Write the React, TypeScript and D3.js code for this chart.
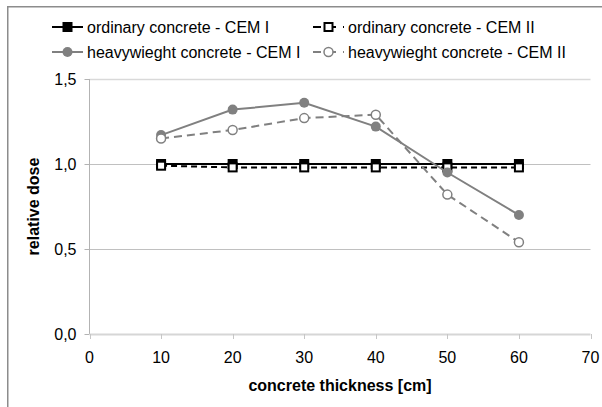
import React from 'react';
import { scaleLinear, line } from 'd3';

const thickness = [10, 20, 30, 40, 50, 60];
const ordinaryCem1 = [1.0, 1.0, 1.0, 1.0, 1.0, 1.0];
const ordinaryCem2 = [0.99, 0.98, 0.98, 0.98, 0.98, 0.98];
const heavyCem1 = [1.17, 1.32, 1.36, 1.22, 0.95, 0.7];
const heavyCem2 = [1.15, 1.2, 1.27, 1.29, 0.82, 0.54];
const xTicks = [0, 10, 20, 30, 40, 50, 60, 70];
const yTicks = [0, 0.5, 1.0, 1.5];

const series = [
    { name: 'ordinary concrete - CEM I', values: ordinaryCem1, color: '#000', dash: null, marker: 'square', filled: true },
    { name: 'ordinary concrete - CEM II', values: ordinaryCem2, color: '#000', dash: '6,4', marker: 'square', filled: false },
    { name: 'heavywieght concrete - CEM I', values: heavyCem1, color: '#808080', dash: null, marker: 'circle', filled: true },
    { name: 'heavywieght concrete - CEM II', values: heavyCem2, color: '#808080', dash: '8,5', marker: 'circle', filled: false },
];

const font = "'Liberation Sans', Arial, sans-serif";

const Marker = ({ s, cx, cy }) => {
    if (s.marker === 'square') {
        return (
            <rect x={cx - 4} y={cy - 4} width={8} height={8}
                fill={s.filled ? '#000' : '#fff'} stroke="#000" strokeWidth={2} />
        );
    }
    return s.filled
        ? <circle cx={cx} cy={cy} r={5} fill={s.color} />
        : <circle cx={cx} cy={cy} r={4.5} fill="#fff" stroke={s.color} strokeWidth={1.5} />;
};

const App = () => {
    const width = 602, height = 407;
    const x = scaleLinear().domain([0, 70]).range([89.5, 590.5]);
    const y = scaleLinear().domain([0, 1.5]).range([334, 79]);

    const drawLine = line()
        .x(d => x(d[0]))
        .y(d => y(d[1]));

    const legendPos = [
        { sx: 52, tx: 87, y: 27 },
        { sx: 313, tx: 348, y: 27 },
        { sx: 52, tx: 87, y: 52 },
        { sx: 313, tx: 348, y: 52 },
    ];

    const py = t => Math.round(y(t)) + 0.5;

    return (
        <svg width={width} height={height} style={{ position: 'absolute', left: 0, top: 0 }}
            fontFamily={font}>
            <rect x={0} y={0} width={width} height={height} fill="#fff" />
            <rect x={7.75} y={6.75} width={620} height={420} fill="none" stroke="#8c8c8c" strokeWidth={1.5} />

            {/* gridlines */}
            {yTicks.filter(t => t > 0).map(t => (
                <line key={t} x1={x(0)} x2={x(70)} y1={py(t)} y2={py(t)}
                    stroke={t === 1.5 ? '#d9d9d9' : '#c0c0c0'} strokeWidth={t === 1.5 ? 1.5 : 1} />
            ))}

            {/* y axis */}
            <line x1={x(0)} x2={x(0)} y1={y(1.5)} y2={y(0)} stroke="#b3b3b3" />
            {yTicks.map(t => (
                <g key={t}>
                    <line x1={x(0) - 5} x2={x(0)} y1={py(t)} y2={py(t)} stroke="#b3b3b3" />
                    <text x={x(0) - 13} y={y(t)} dy="0.35em" textAnchor="end" fontSize={16} fill="#000">
                        {t.toFixed(1).replace('.', ',')}
                    </text>
                </g>
            ))}

            {/* x axis */}
            <line x1={x(0)} x2={x(70)} y1={py(0)} y2={py(0)} stroke="#d6d6d6" strokeWidth={2} />
            {xTicks.map(t => (
                <g key={t}>
                    <line x1={Math.round(x(t)) + 0.5} x2={Math.round(x(t)) + 0.5} y1={y(0)} y2={y(0) + 5} stroke="#c6c6c6" />
                    <text x={x(t)} y={357} dy="0.35em" textAnchor="middle" fontSize={16} fill="#000">{t}</text>
                </g>
            ))}

            <text x={340} y={385} dy="0.35em" textAnchor="middle" fontSize={16} fontWeight="bold">
                concrete thickness [cm]
            </text>
            <text transform={`translate(33, ${(y(0) + y(1.5)) / 2}) rotate(-90)`} dy="0.35em"
                textAnchor="middle" fontSize={16} fontWeight="bold">
                relative dose
            </text>

            {/* series */}
            {series.map(s => {
                const pts = thickness.map((t, i) => [t, s.values[i]]);
                return (
                    <g key={s.name}>
                        <path d={drawLine(pts)} fill="none" stroke={s.color}
                            strokeWidth={2} strokeDasharray={s.dash || undefined} />
                        {pts.map((p, i) => <Marker key={i} s={s} cx={x(p[0])} cy={y(p[1])} />)}
                    </g>
                );
            })}

            {/* legend */}
            {series.map((s, i) => {
                const p = legendPos[i];
                return (
                    <g key={s.name}>
                        <line x1={p.sx} x2={p.sx + 31} y1={p.y} y2={p.y} stroke={s.color}
                            strokeWidth={2} strokeDasharray={s.dash ? '8,7' : undefined} />
                        <Marker s={s} cx={p.sx + 15.5} cy={p.y} />
                        <text x={p.tx} y={p.y} dy="0.35em" fontSize={16} fill="#000">{s.name}</text>
                    </g>
                );
            })}
        </svg>
    );
};

export default App;
